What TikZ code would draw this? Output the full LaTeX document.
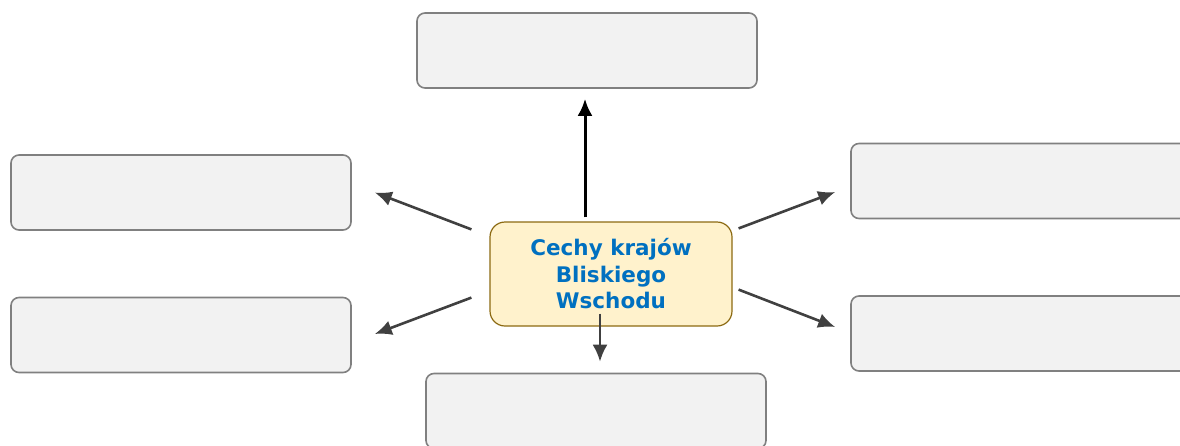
\documentclass[tikz,border=0pt]{standalone}
\usepackage{fontspec}
\usepackage{tikz}
\usetikzlibrary{arrows.meta}
\newfontfamily\boxfont{DejaVu Sans}
\colorlet{boxfill}{black!5}
\colorlet{boxline}{black!50}
\definecolor{mainfill}{HTML}{FFF2CC}
\definecolor{mainline}{HTML}{8C6A12}
\definecolor{maintext}{HTML}{0070C0}
\colorlet{arrcol}{black!75}
\tikzstyle{emptybox}=[draw=boxline,fill=boxfill,line width=1.6pt,rounded corners=8pt,
                      minimum width=340pt,minimum height=75pt,inner sep=0pt]
\tikzstyle{mainbox}=[draw=mainline,fill=mainfill,line width=1.2pt,rounded corners=15pt,
                     minimum width=242pt,minimum height=104pt,align=center,
                     text=maintext,font=\boxfont\bfseries\fontsize{21.5}{26.5}\selectfont]
\tikzstyle{arr}=[-{Latex[length=17pt,width=15pt]},line width=2.6pt,arrcol]

\begin{document}
\begin{tikzpicture}[x=1pt,y=-1pt]
  \useasboundingbox (0,0) rectangle (1180,445);

  % BOXES
  \node[emptybox] (top) at (587,50.5) {};
  \node[emptybox] (lu)  at (181,192.5) {};
  \node[emptybox] (ll)  at (181,335) {};
  \node[emptybox] (ru)  at (1021,181) {};
  \node[emptybox] (rl)  at (1021,333.5) {};
  \node[emptybox] (bot) at (596,411) {};

  % CENTRE
  \node[mainbox] (main) at (611,274) {Cechy krajów\\Bliskiego\\Wschodu};

  % ARROWS
  \draw[arr,black,line width=3pt,shorten <=4pt,shorten >=10pt]
    ([xshift=-2pt]top.south |- main.north) -- ([xshift=-2pt]top.south);
  \draw[arr,shorten <=-13pt,shorten >=11pt]
    ([xshift=4pt]bot.north |- main.south) -- ([xshift=4pt]bot.north);
  \draw[arr] ([xshift=-18pt,yshift=-8pt]main.north west) -- ([xshift=23pt]lu.east);
  \draw[arr] ([xshift=-18pt,yshift=29pt]main.south west) -- ([xshift=23pt,yshift=1pt]ll.east);
  \draw[arr] ([xshift=6pt,yshift=-7pt]main.north east) -- ([xshift=-15pt,yshift=-11pt]ru.west);
  \draw[arr] ([xshift=6pt,yshift=37pt]main.south east) -- ([xshift=-15pt,yshift=6.5pt]rl.west);

\end{tikzpicture}
\end{document}
